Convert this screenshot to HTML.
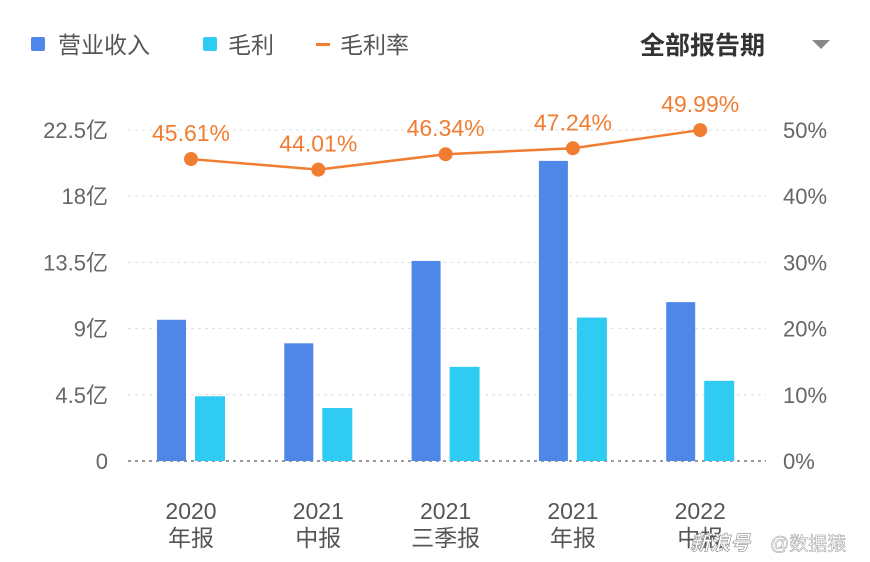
<!DOCTYPE html>
<html><head><meta charset="utf-8"><style>
body{margin:0;background:#fff;}
svg{display:block;font-family:"Liberation Sans","Noto Sans CJK SC",sans-serif;}
</style></head><body>
<svg id="chart" width="870" height="562">
<g>
 <g><rect x="31" y="37" width="14" height="14" rx="2" fill="#4f87e9"/><text x="58" y="53" font-size="23" fill="#555">营业收入</text></g>
 <g><rect x="203" y="37" width="14" height="14" rx="2" fill="#2fcbf2"/><text x="228" y="53" font-size="23" fill="#555">毛利</text></g>
 <g><rect x="316" y="43" width="14" height="3" fill="#f07d32"/><text x="340" y="53" font-size="23" fill="#555">毛利率</text></g>
</g>
<text x="640" y="54" font-size="25" font-weight="bold" fill="#333">全部报告期</text>
<path d="M812 40 L830 40 L821 49 Z" fill="#888"/>
<g id="grid"></g><g id="bars"></g><g id="line"></g><g id="labels"></g>
<text x="690" y="550" font-size="20" fill="#fff" stroke="#888" stroke-width="0.6" font-style="italic" font-weight="bold">新浪号</text>
<text x="770" y="550" font-size="19" fill="#fff" stroke="#999" stroke-width="0.5">@数据猿</text>
</svg>
<script>
const categories=[["2020","年报"],["2021","中报"],["2021","三季报"],["2021","年报"],["2022","中报"]];
const revenue=[9.6,8.0,13.6,20.4,10.8];
const gross=[4.4,3.6,6.4,9.75,5.45];
const margin=[45.61,44.01,46.34,47.24,49.99];
const leftTicks=[0,4.5,9,13.5,18,22.5];
const leftLabels=["0","4.5亿","9亿","13.5亿","18亿","22.5亿"];
const rightTicks=[0,10,20,30,40,50];
const NS="http://www.w3.org/2000/svg";
const y0=461,yTop=130;
const yL=v=>y0-(v/22.5)*(y0-yTop);
const yR=v=>y0-(v/50)*(y0-yTop);
const xC=i=>191+i*127.3;
function mk(tag,attrs,parent,txt){const e=document.createElementNS(NS,tag);for(const k in attrs)e.setAttribute(k,attrs[k]);if(txt!==undefined)e.textContent=txt;document.getElementById(parent).appendChild(e);return e;}
leftTicks.forEach((t,i)=>{
 const y=yL(t);
 const g=mk("line",{x1:128,x2:766,y1:y,y2:y,stroke:i==0?"#777":"#ddd","stroke-dasharray":"3,4","stroke-width":i==0?1.5:1},"grid");
 
 
 const l=mk("text",{x:108,y:y+8,"font-size":22,fill:"#666","text-anchor":"end"},"grid",leftLabels[i]);
 
 
});
rightTicks.forEach(t=>{
 const r=mk("text",{x:783,y:yR(t)+8,"font-size":22,fill:"#666"},"grid",t+"%");
 
 
});
categories.forEach((c,i)=>{
 const a=mk("text",{x:xC(i),y:519,"font-size":23,fill:"#555","text-anchor":"middle"},"labels",c[0]);
 
 
 const b=mk("text",{x:xC(i),y:546,"font-size":23,fill:"#555","text-anchor":"middle"},"labels",c[1]);
 
 
 const r=mk("rect",{x:xC(i)-34,y:yL(revenue[i]),width:29,height:y0-yL(revenue[i]),fill:"#4f87e9"},"bars");
 
 
 const g=mk("rect",{x:xC(i)+4,y:yL(gross[i]),width:30,height:y0-yL(gross[i]),fill:"#2fcbf2"},"bars");
 
 
});
const pts=margin.map((m,i)=>xC(i)+","+yR(m)).join(" ");
const pl=mk("polyline",{points:pts,fill:"none",stroke:"#f07d32","stroke-width":2.5},"line");


margin.forEach((m,i)=>{
 const c=mk("circle",{cx:xC(i),cy:yR(m),r:7,fill:"#f07d32"},"line");
 
 
 const t=mk("text",{x:xC(i),y:yR(m)-18,"font-size":23,fill:"#f07d32","text-anchor":"middle"},"line",m.toFixed(2)+"%");
 
 
});
</script>
</body></html>
